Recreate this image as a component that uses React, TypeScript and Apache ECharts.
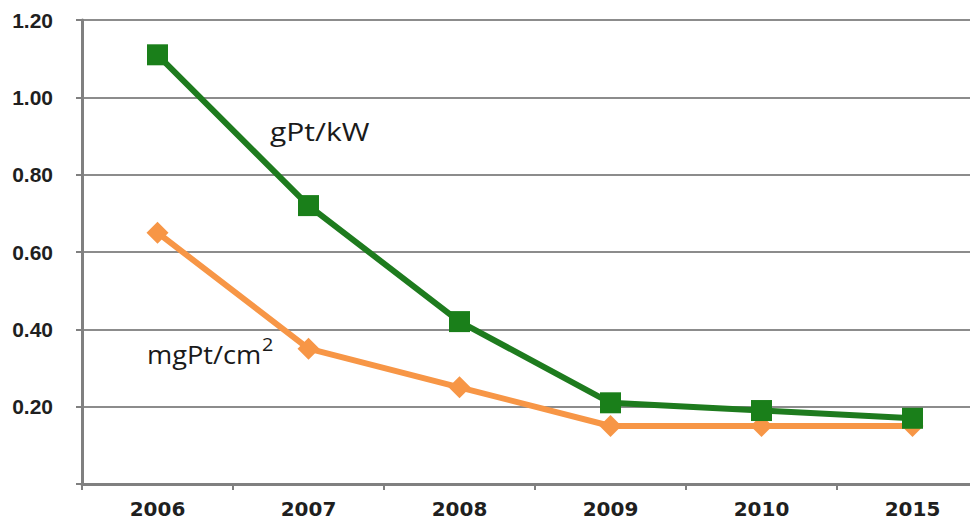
import React, { useEffect, useRef } from "react";
import * as echarts from "echarts";

const years = ["2006", "2007", "2008", "2009", "2010", "2015"];
const gPtPerKW = [1.11, 0.72, 0.42, 0.21, 0.19, 0.17];
const mgPtPerCm2 = [0.65, 0.35, 0.25, 0.15, 0.15, 0.15];
const yTicks = { min: 0, max: 1.2, step: 0.2 };

export default function App() {
  const ref = useRef<HTMLDivElement>(null);
  useEffect(() => {
    document.body.style.margin = "0";
    if (!ref.current) return;
    const chart = echarts.init(ref.current, null, { renderer: "svg" });
    const annFont = "Open Sans, Liberation Sans, sans-serif";
    chart.setOption({
      animation: false,
      backgroundColor: "#ffffff",
      grid: { left: 82, top: 20, right: 0, height: 464, containLabel: false },
      xAxis: {
        type: "category",
        data: years,
        boundaryGap: true,
        axisLine: { show: true, lineStyle: { color: "#808080", width: 3 } },
        axisTick: { show: true, length: 6, lineStyle: { color: "#808080", width: 2 } },
        axisLabel: {
          color: "#1f1f1f",
          fontFamily: "DejaVu Sans, sans-serif",
          fontWeight: "bold",
          fontSize: 20,
          margin: 15,
        },
        splitLine: { show: false },
      },
      yAxis: {
        type: "value",
        min: yTicks.min,
        max: yTicks.max,
        interval: yTicks.step,
        axisLine: { show: true, lineStyle: { color: "#808080", width: 3 } },
        axisTick: { show: true, length: 6, lineStyle: { color: "#808080", width: 2 } },
        axisLabel: {
          color: "#1f1f1f",
          fontFamily: "Liberation Sans, Arial, sans-serif",
          fontWeight: "bold",
          fontSize: 21,
          margin: 29,
          formatter: (v: number) => (v === 0 ? "" : v.toFixed(2)),
        },
        splitLine: { show: true, lineStyle: { color: "#8c8c8c", width: 2 } },
      },
      series: [
        {
          name: "mgPt/cm2",
          type: "line",
          data: mgPtPerCm2,
          symbol: "diamond",
          symbolSize: 22,
          lineStyle: { color: "#F79646", width: 6 },
          itemStyle: { color: "#F79646" },
          z: 2,
        },
        {
          name: "gPt/kW",
          type: "line",
          data: gPtPerKW,
          symbol: "rect",
          symbolSize: 21,
          lineStyle: { color: "#1E7B1E", width: 6 },
          itemStyle: { color: "#1A7F1A" },
          z: 3,
        },
      ],
      graphic: [
        {
          type: "text",
          x: 270,
          y: 119,
          scaleX: 1.2,
          style: {
            text: "gPt/kW",
            fontSize: 25,
            fontFamily: annFont,
            fill: "#1a1a1a",
            align: "left",
            verticalAlign: "top",
          },
        },
        {
          type: "text",
          x: 147,
          y: 342,
          scaleX: 1.09,
          style: {
            text: "mgPt/cm",
            fontSize: 25,
            fontFamily: annFont,
            fill: "#1a1a1a",
            align: "left",
            verticalAlign: "top",
          },
        },
        {
          type: "text",
          x: 262,
          y: 335,
          scaleX: 1.1,
          style: {
            text: "2",
            fontSize: 18,
            fontFamily: annFont,
            fill: "#1a1a1a",
            align: "left",
            verticalAlign: "top",
          },
        },
      ],
    });
    return () => chart.dispose();
  }, []);
  return (
    <div style={{ width: 970, height: 521, overflow: "hidden", position: "relative" }}>
      <div ref={ref} style={{ width: 988, height: 521 }} />
    </div>
  );
}
